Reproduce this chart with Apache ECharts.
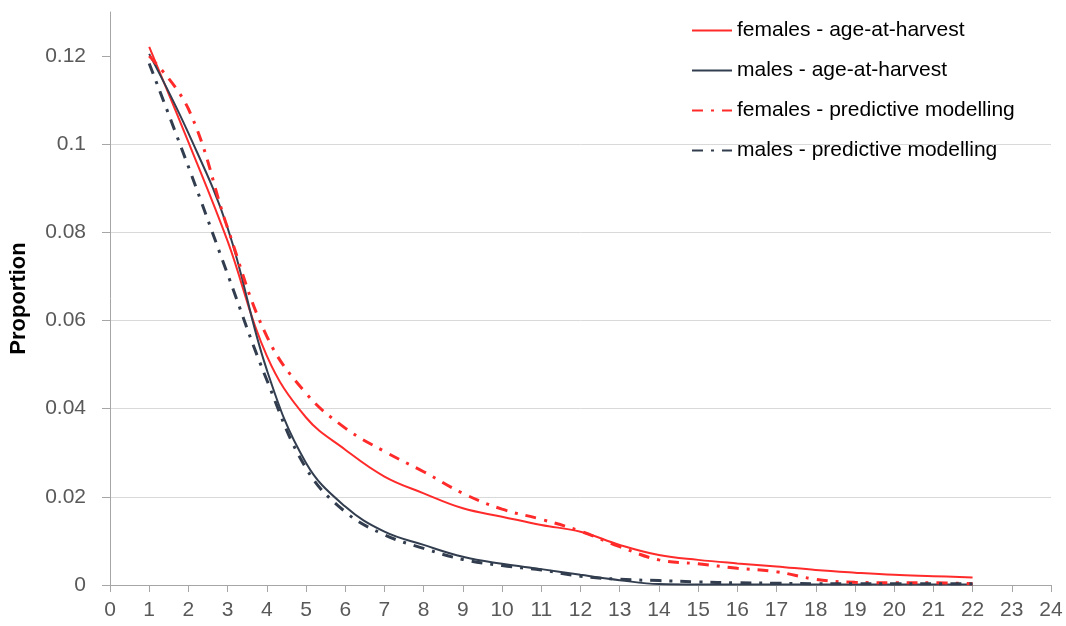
<!DOCTYPE html>
<html>
<head>
<meta charset="utf-8">
<script src="https://cdn.jsdelivr.net/npm/echarts@6/dist/echarts.min.js"></script>
<style>
  html, body { margin: 0; padding: 0; background: #fff; }
  #chart { width: 1066px; height: 626px; }
</style>
</head>
<body>
<div id="chart"></div>
<script>
// age classes (years)
const ages = [1, 2, 3, 4, 5, 6, 7, 8, 9, 10, 11, 12, 13, 14, 15, 16, 17, 18, 19, 20, 21, 22];

const femalesHarvest = [0.1221, 0.1005, 0.0780, 0.0520, 0.0380, 0.0307, 0.0246, 0.0208, 0.0174, 0.0155, 0.0136,
  0.0121, 0.0091, 0.0068, 0.0057, 0.0049, 0.0042, 0.0034, 0.0028, 0.0023, 0.0020, 0.0017];
const malesHarvest = [0.1205, 0.1025, 0.0810, 0.0488, 0.0277, 0.0178, 0.0121, 0.0091, 0.0064, 0.0048, 0.0036,
  0.0023, 0.0011, 0.0002, 0.0001, 0.0001, 0.0001, 0.0001, 0.0001, 0.0001, 0.0001, 0.0001];
const femalesModel = [0.1200, 0.1080, 0.0810, 0.0564, 0.0435, 0.0356, 0.0303, 0.0257, 0.0208, 0.0172, 0.0149,
  0.0122, 0.0087, 0.0057, 0.0048, 0.0038, 0.0030, 0.0013, 0.0006, 0.0005, 0.0005, 0.0003];
const malesModel = [0.1183, 0.0949, 0.0705, 0.0465, 0.0265, 0.0166, 0.0114, 0.0083, 0.0058, 0.0044, 0.0034,
  0.0020, 0.0013, 0.0010, 0.0007, 0.0005, 0.0004, 0.0003, 0.0003, 0.0003, 0.0003, 0.0003];

const yTicks = [0, 0.02, 0.04, 0.06, 0.08, 0.1, 0.12];

const RED = "#ff2b2b";
const NAVY = "#323e4f";
const DASHDOT = [11, 8, 3, 8];

function pairs(vals) {
  return ages.map((a, i) => [a, vals[i]]);
}

function line(name, vals, color, dashed) {
  return {
    name: name,
    type: "line",
    data: pairs(vals),
    symbol: "none",
    smooth: 0.4,
    lineStyle: {
      color: color,
      width: dashed ? 3 : 2,
      type: dashed ? DASHDOT : "solid"
    },
    itemStyle: { color: color }
  };
}

const chart = echarts.init(document.getElementById("chart"));
chart.setOption({
  animation: false,
  grid: {
    left: 108,
    right: 15,
    top: 12,
    bottom: 41
  },
  legend: {
    orient: "vertical",
    left: 686,
    top: 15,
    itemWidth: 40,
    itemHeight: 14,
    itemGap: 19,
    itemStyle: { opacity: 0 },
    textStyle: {
      fontFamily: "Liberation Sans",
      fontSize: 21,
      lineHeight: 21,
      color: "#000"
    },
    data: [
      "females - age-at-harvest",
      "males - age-at-harvest",
      "females - predictive modelling",
      "males - predictive modelling"
    ]
  },
  xAxis: {
    type: "value",
    min: 0,
    max: 24,
    interval: 1,
    splitLine: { show: false },
    axisLine: { lineStyle: { color: "#a6a6a6", width: 1 } },
    axisTick: { show: true, length: 7, lineStyle: { color: "#a6a6a6" } },
    axisLabel: {
      margin: 15,
      fontFamily: "Liberation Sans",
      fontSize: 21,
      color: "#595959"
    }
  },
  yAxis: {
    type: "value",
    min: 0,
    max: 0.13,
    interval: 0.02,
    name: "Proportion",
    nameLocation: "middle",
    nameGap: 80,
    nameTextStyle: {
      fontFamily: "Liberation Sans",
      fontSize: 22,
      fontWeight: "bold",
      color: "#000"
    },
    axisLine: { show: true, lineStyle: { color: "#a6a6a6", width: 1 } },
    axisTick: { show: true, length: 8, customValues: yTicks, lineStyle: { color: "#a6a6a6" } },
    splitLine: { show: true, showMaxLine: false, lineStyle: { color: "#d9d9d9", width: 1 } },
    axisLabel: {
      margin: 24,
      showMaxLabel: false,
      fontFamily: "Liberation Sans",
      fontSize: 21,
      color: "#595959"
    }
  },
  series: [
    line("females - age-at-harvest", femalesHarvest, RED, false),
    line("males - age-at-harvest", malesHarvest, NAVY, false),
    line("females - predictive modelling", femalesModel, RED, true),
    line("males - predictive modelling", malesModel, NAVY, true)
  ]
});
</script>
</body>
</html>
